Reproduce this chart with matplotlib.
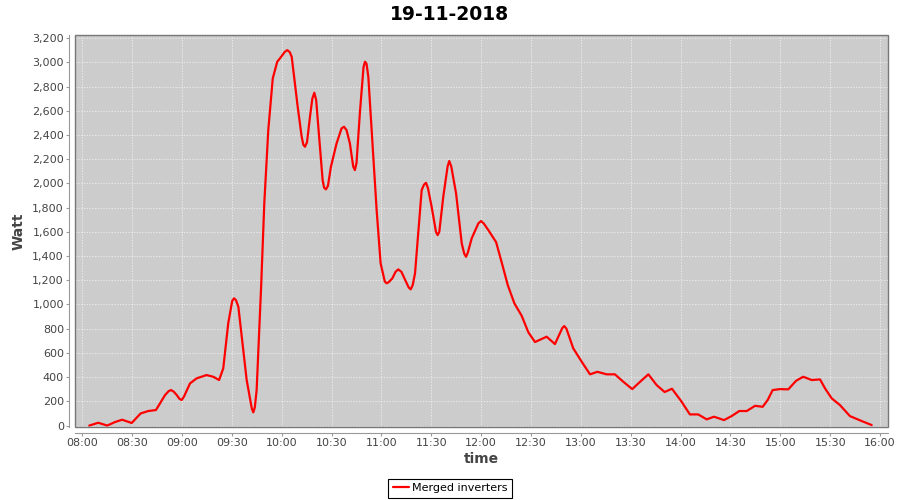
import pandas as pd
import matplotlib
matplotlib.use('Agg')
import matplotlib.pyplot as plt
import matplotlib.dates as mdates
from matplotlib.patches import Rectangle
from matplotlib.ticker import FuncFormatter

# Power readings of the merged inverters
day = '2018-11-19'
minutes_after_8 = [4.2, 9.6, 15, 19.7, 24, 29.7, 35.1, 39.7, 44.3, 49.8,
                   52, 53.4, 55, 56.8, 58.5, 59.8, 61.2, 64.8, 68.8, 74.8,
                   78.8, 82.3, 84.8, 87.8, 90.2, 91.3, 92.5, 93.9, 98.9, 102,
                   102.9, 103.8, 104.9, 107.6, 109.5, 111.9, 114.6, 117.3, 120, 121.7,
                   123.3, 124.8, 126, 129.6, 132, 133, 134, 135.2, 137, 138.4,
                   139.6, 140.7, 142, 144.6, 145.5, 146.6, 147.8, 149.6, 153, 156,
                   157.5, 159, 161, 163, 164, 165, 167, 169.2, 170.1, 171,
                   172.1, 174.7, 177.1, 179.5, 182, 183.1, 184.4, 186.5, 188.5, 190.1,
                   192, 196.4, 197.6, 198.8, 200.2, 204.2, 205.6, 206.8, 208, 210.2,
                   212.8, 213.8, 214.8, 217.2, 219.8, 220.8, 222, 224.9, 228.3, 229.8,
                   230.9, 232, 234.3, 238.3, 239.9, 241.5, 244.3, 249, 252.5, 256,
                   260, 264.4, 268.4, 272.4, 279.4, 284.4, 288.8, 290, 291.3, 295.4,
                   300.5, 305.5, 309.9, 315.5, 320.5, 325.5, 330.9, 335.5, 340.6, 345.6,
                   350.4, 354.8, 360.2, 365.6, 370.6, 375.7, 380.1, 386.1, 390.7, 395.3,
                   399.8, 404.8, 409.4, 412.4, 415.4, 419.8, 424.8, 429.5, 433.8, 438.9,
                   443.9, 446.9, 450.9, 455.9, 461.9, 469, 475]
watt = [0, 23, 0, 29, 48, 21, 100, 120, 128, 252,
        285, 293, 280, 252, 220, 211, 240, 348, 390, 417,
        403, 376, 472, 844, 1030, 1051, 1035, 981, 376, 140,
        109, 150, 293, 1150, 1835, 2441, 2868, 3005, 3052, 3085,
        3101, 3085, 3046, 2633, 2385, 2320, 2303, 2340, 2551, 2700,
        2749, 2690, 2468, 2028, 1965, 1951, 1980, 2138, 2331, 2455,
        2468, 2440, 2331, 2140, 2110, 2170, 2579, 2960, 3005, 2990,
        2881, 2303, 1780, 1340, 1190, 1175, 1185, 1215, 1270, 1290,
        1270, 1140, 1125, 1160, 1257, 1945, 1990, 2005, 1960, 1807,
        1600, 1573, 1600, 1890, 2140, 2185, 2140, 1918, 1505, 1420,
        1394, 1430, 1546, 1670, 1689, 1670, 1615, 1515, 1340, 1160,
        1009, 906, 770, 690, 734, 673, 805, 822, 800, 638,
        527, 423, 444, 423, 423, 362, 301, 360, 423, 334,
        277, 304, 205, 92, 92, 51, 73, 45, 78, 120,
        120, 163, 155, 211, 293, 301, 299, 370, 403, 376,
        381, 307, 225, 169, 78, 37, 4]

title = '19-11-2018'
series_name = 'Merged inverters'

start = pd.Timestamp(day + ' 08:00')
times = start + pd.to_timedelta(minutes_after_8, unit='m')

fig = plt.figure(figsize=(9, 5), dpi=100)
ax = fig.add_axes([75 / 900, 73 / 500, 813 / 900, 392 / 500])
ax.set_facecolor('#cccccc')

ax.plot(times, watt, color='#ff0000', linewidth=1.6, label=series_name,
        solid_joinstyle='round', solid_capstyle='round')

# axis ranges
ax.set_xlim(start - pd.Timedelta(minutes=4.4), start + pd.Timedelta(minutes=484.8))
ax.set_ylim(-12, 3226)

ax.xaxis.set_major_locator(mdates.MinuteLocator(byminute=[0, 30]))
ax.xaxis.set_major_formatter(mdates.DateFormatter('%H:%M'))
ax.set_yticks(range(0, 3201, 200))
ax.yaxis.set_major_formatter(FuncFormatter(lambda v, p: f'{int(v):,}'))

ax.grid(True, color='#f4f4f4', linestyle=(0, (2, 2)), linewidth=0.5)

# axis lines sit a few pixels away from the plot area
for side in ['left', 'bottom']:
    ax.spines[side].set_position(('outward', 4))
    ax.spines[side].set_color('#999999')
for side in ['top', 'right']:
    ax.spines[side].set_visible(False)
ax.add_patch(Rectangle((0, 0), 1, 1, transform=ax.transAxes, fill=False,
                       edgecolor='#777777', linewidth=1, clip_on=False, zorder=5))

ax.tick_params(axis='both', length=2, width=0.8, color='#999999',
               labelsize=8, labelcolor='#444444', pad=2)

ax.set_xlabel('time', fontsize=10, fontweight='bold', color='#444444', labelpad=3)
ax.set_ylabel('Watt', fontsize=10, fontweight='bold', color='#444444', labelpad=5)
fig.suptitle(title, x=0.5, y=0.99, fontsize=13.5, fontweight='bold')

leg = fig.legend(loc='lower center', bbox_to_anchor=(0.5, 0.0), fontsize=8,
                 frameon=True, fancybox=False, edgecolor='black', framealpha=1,
                 handlelength=1.5, borderpad=0.4, handletextpad=0.25,
                 borderaxespad=0.2)
leg.get_frame().set_linewidth(0.8)

fig.savefig('out.png', dpi=100)
